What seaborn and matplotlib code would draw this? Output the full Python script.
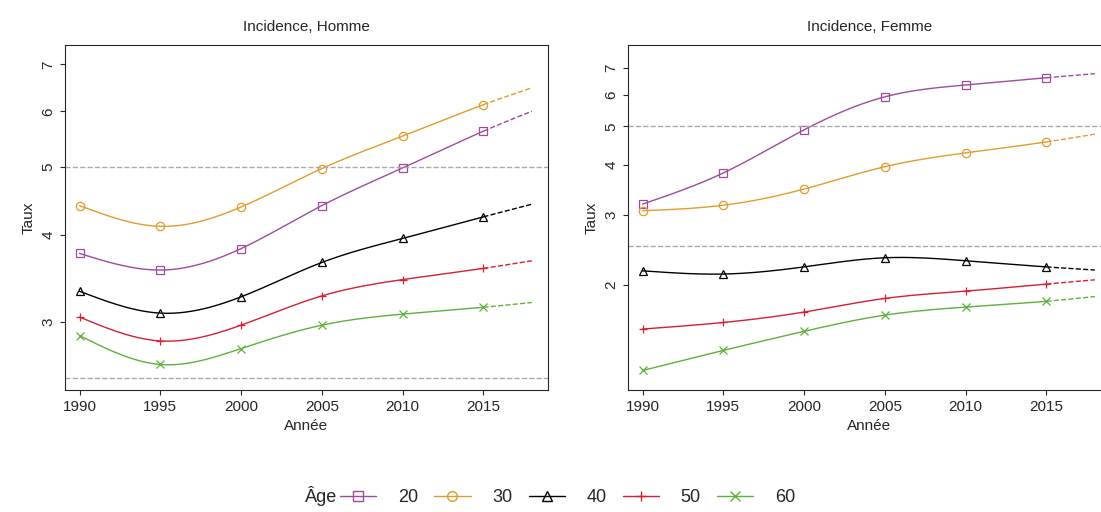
import numpy as np
import matplotlib
matplotlib.use("Agg")
import matplotlib.pyplot as plt
import seaborn as sns
from matplotlib.lines import Line2D

sns.set_style("ticks")
plt.rcParams['font.family'] = ['Liberation Sans', 'DejaVu Sans']

years = [1990, 1995, 2000, 2005, 2010, 2015]
proj_year = 2018
ages = ["20", "30", "40", "50", "60"]
colors = ["#9E4A9E", "#E39B2D", "#000000", "#D42032", "#5FB03C"]
markers = ["s", "o", "^", "+", "x"]

homme = {
    "20": [3.76, 3.56, 3.82, 4.40, 4.98, 5.62],
    "30": [4.40, 4.11, 4.38, 4.97, 5.53, 6.13],
    "40": [3.32, 3.09, 3.26, 3.65, 3.95, 4.24],
    "50": [3.05, 2.82, 2.97, 3.27, 3.45, 3.58],
    "60": [2.87, 2.61, 2.75, 2.97, 3.08, 3.15],
}
homme_proj = {"20": 6.0, "30": 6.48, "40": 4.42, "50": 3.67, "60": 3.20}
femme = {
    "20": [3.19, 3.82, 4.90, 5.93, 6.35, 6.62],
    "30": [3.07, 3.17, 3.48, 3.96, 4.29, 4.57],
    "40": [2.17, 2.13, 2.22, 2.34, 2.30, 2.22],
    "50": [1.55, 1.61, 1.71, 1.85, 1.93, 2.01],
    "60": [1.22, 1.37, 1.53, 1.68, 1.76, 1.82],
}
femme_proj = {"20": 6.78, "30": 4.78, "40": 2.18, "50": 2.06, "60": 1.87}


def spline(x, y, xs):
    x = np.asarray(x, float); y = np.asarray(y, float)
    n = len(x); h = np.diff(x)
    A = np.zeros((n, n)); b = np.zeros(n)
    A[0, 0] = A[-1, -1] = 1
    for i in range(1, n - 1):
        A[i, i - 1] = h[i - 1]; A[i, i] = 2 * (h[i - 1] + h[i]); A[i, i + 1] = h[i]
        b[i] = 3 * ((y[i + 1] - y[i]) / h[i] - (y[i] - y[i - 1]) / h[i - 1])
    c = np.linalg.solve(A, b)
    out = np.empty_like(xs)
    for k, xv in enumerate(xs):
        i = min(max(np.searchsorted(x, xv) - 1, 0), n - 2)
        d = (c[i + 1] - c[i]) / (3 * h[i])
        bb = (y[i + 1] - y[i]) / h[i] - h[i] * (2 * c[i] + c[i + 1]) / 3
        t = xv - x[i]
        out[k] = y[i] + bb * t + c[i] * t ** 2 + d * t ** 3
    return out


fig = plt.figure(figsize=(11.01, 5.12), dpi=100)
W = (548 - 65) / 1101
axL = fig.add_axes([65 / 1101, 1 - 390 / 512, W, 345 / 512])
axR = fig.add_axes([628 / 1101, 1 - 390 / 512, W, 345 / 512])

for ax, data, proj, title, ylim, yt in [
    (axL, homme, homme_proj, "Incidence, Homme", (2.40, 7.46), [3, 4, 5, 6, 7]),
    (axR, femme, femme_proj, "Incidence, Femme", (1.09, 8.0), [2, 3, 4, 5, 6, 7]),
]:
    ax.set_yscale("log")
    for a, col, m in zip(ages, colors, markers):
        xx = years + [proj_year]
        yy = np.log(data[a] + [proj[a]])
        xs = np.linspace(1990, 2015, 200)
        sns.lineplot(x=xs, y=np.exp(spline(xx, yy, xs)), ax=ax, color=col, lw=1)
        xs2 = np.linspace(2015, 2018, 30)
        sns.lineplot(x=xs2, y=np.exp(spline(xx, yy, xs2)), ax=ax, color=col, lw=1, ls="--")
        ax.plot(years, data[a], ls="none", marker=m, mfc="none", mec=col, ms=6, mew=0.9)
    for v in (2.5, 5):
        ax.axhline(v, color="#aaaaaa", ls="--", lw=1)
    ax.set_ylim(*ylim)
    ax.set_xlim(1989.1, 2019)
    ax.set_yticks(yt)
    ax.set_yticklabels([str(t) for t in yt], rotation=90, va="center")
    ax.yaxis.set_minor_locator(matplotlib.ticker.NullLocator())
    ax.set_xticks(years)
    ax.set_title(title, fontsize=11, pad=10)
    ax.set_xlabel("Année", fontsize=11)
    ax.set_ylabel("Taux", fontsize=11)
    ax.tick_params(labelsize=11)
    for s in ax.spines.values():
        s.set_linewidth(0.8)

handles = [Line2D([], [], color=c, marker=m, mfc="none", mec=c, lw=1, ms=7) for c, m in zip(colors, markers)]
fig.text(305 / 1101, 0.012, "Âge", fontsize=13, va="bottom")
fig.legend(handles, ages, loc="lower left", bbox_to_anchor=(324 / 1101, -0.02), ncol=5,
           frameon=False, fontsize=13, handlelength=2.0, columnspacing=0.9, handletextpad=1.2)
fig.savefig("out.png", dpi=100)
